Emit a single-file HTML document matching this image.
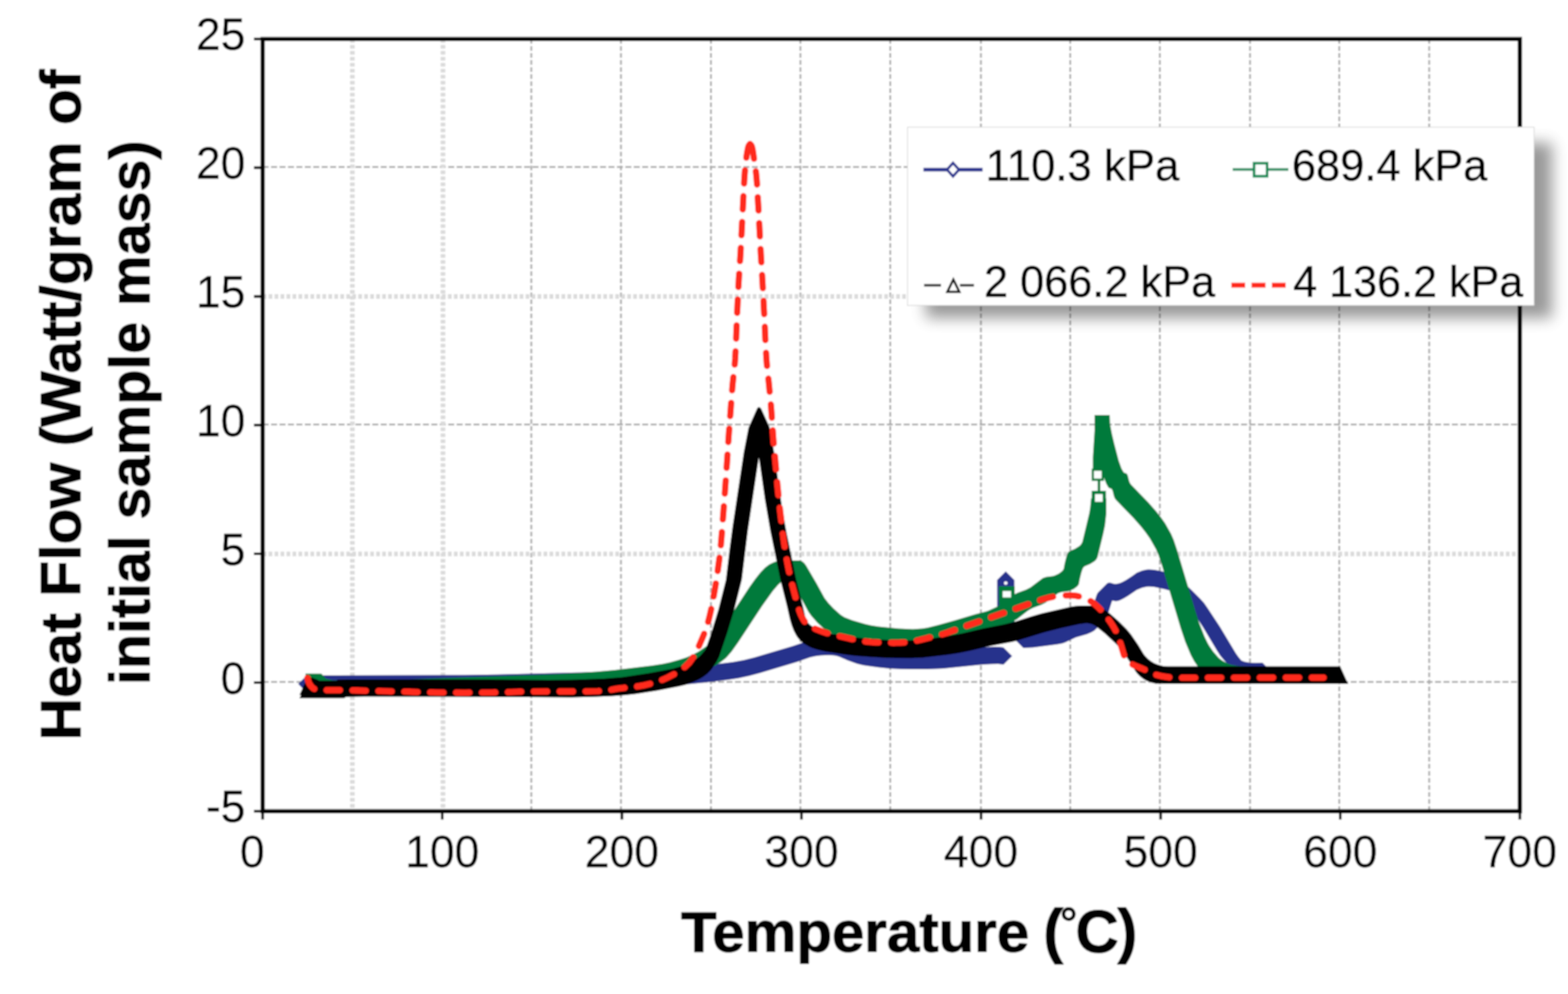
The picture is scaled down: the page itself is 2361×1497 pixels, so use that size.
<!DOCTYPE html>
<html lang="en"><head><meta charset="utf-8"><title>Heat Flow vs Temperature</title>
<style>
html,body{margin:0;padding:0;background:#fff;}
body{width:2361px;height:1497px;overflow:hidden;}
svg{display:block;}
text{font-family:"Liberation Sans",sans-serif;fill:#000;}
.tick{font-size:69px;stroke:#000;stroke-width:0.4px;}
.leg{font-size:66px;stroke:#000;stroke-width:0.7px;}
.ttl{font-size:86px;font-weight:bold;stroke:#000;stroke-width:1.5px;stroke-linejoin:round;}
</style></head><body>
<svg width="2361" height="1497" viewBox="0 0 2361 1497">
<defs><filter id="sh" x="-20%" y="-40%" width="140%" height="180%"><feGaussianBlur stdDeviation="11"/></filter>
<filter id="soft" filterUnits="userSpaceOnUse" x="0" y="0" width="2361" height="1497"><feGaussianBlur stdDeviation="1.1"/></filter></defs>
<rect width="2361" height="1497" fill="#fff"/>
<g filter="url(#soft)">
<rect width="2361" height="1497" fill="#fff"/>
<path d="M395.5 251.4 H2288.5 M395.5 639.3 H2288.5 M395.5 1027.0 H2288.5" fill="none" stroke="#a2a2a2" stroke-width="2.5" stroke-dasharray="9 3.7"/>
<path d="M800.0 58.8 V1221.8 M935.0 58.8 V1221.8 M1070.5 58.8 V1221.8 M1205.2 58.8 V1221.8 M1340.5 58.8 V1221.8 M1477.0 58.8 V1221.8 M1611.5 58.8 V1221.8 M1746.4 58.8 V1221.8 M1882.2 58.8 V1221.8 M2016.6 58.8 V1221.8 M2152.0 58.8 V1221.8" fill="none" stroke="#aaaaaa" stroke-width="2.8" stroke-dasharray="7 3.6"/>
<path d="M530.6 58.8 V1221.8 M667.0 58.8 V1221.8 M395.5 446.6 H2288.5 M395.5 834.3 H2288.5" fill="none" stroke="#dadada" stroke-width="7" stroke-dasharray="5.5 3.5"/>
<g id="curves">
<path d="M1501.6 945.0 1514.6 958.0 1527.6 945.0 1527.4 873.6 1514.4 860.6 1501.4 873.6ZM1604.0 941.5 1596.0 944.0 1560.0 949.0 1541.0 950.0 1528.0 963.0 1541.0 976.0 1555.8 975.3 1592.0 970.6 1600.0 969.0 1604.0 967.5 1620.0 960.0 1636.5 955.3 1643.0 952.6 1647.9 949.7 1663.0 934.7 1665.0 932.0 1666.9 928.4 1668.5 924.0 1674.7 904.4 1680.0 905.5 1684.0 904.9 1687.8 903.5 1692.6 901.1 1698.5 897.5 1711.7 888.5 1719.8 885.3 1726.4 883.8 1730.0 883.5 1737.7 884.0 1754.1 887.5 1762.3 889.7 1766.3 891.2 1770.0 893.0 1773.5 895.3 1786.7 907.6 1791.9 914.9 1811.0 944.0 1832.8 980.5 1837.0 986.9 1840.7 991.6 1851.2 1003.5 1864.2 1016.5 1869.0 1020.5 1873.8 1022.6 1882.0 1024.0 1890.1 1024.3 1901.0 1024.0 1914.0 1011.0 1901.0 998.0 1890.1 998.3 1882.0 998.0 1873.8 996.6 1869.3 994.7 1864.9 989.4 1861.0 984.0 1837.0 944.0 1817.9 914.9 1813.0 908.0 1807.6 902.1 1794.6 889.1 1776.8 872.1 1773.5 869.3 1770.0 867.0 1766.3 865.2 1758.2 862.5 1745.9 859.6 1737.7 858.0 1730.0 857.5 1726.4 857.8 1719.8 859.3 1711.7 862.5 1704.0 868.0 1695.5 873.4 1690.0 876.5 1685.9 878.3 1680.0 879.5 1677.5 879.2 1671.9 877.6 1669.3 877.4 1667.0 878.4 1654.0 891.4 1652.2 893.8 1650.8 897.3 1641.2 927.4 1636.5 929.3 1620.0 934.0ZM700.0 1016.5 462.0 1017.0 449.0 1030.0 462.0 1043.0 663.8 1042.7 727.0 1042.2 891.0 1038.3 977.0 1035.3 1009.7 1033.2 1068.2 1027.3 1095.3 1024.1 1111.8 1021.6 1128.0 1018.1 1144.0 1013.7 1200.0 997.0 1220.0 990.0 1228.0 988.3 1236.0 987.3 1248.0 986.8 1256.0 987.3 1260.0 988.0 1264.0 989.2 1276.0 994.4 1290.6 999.8 1300.0 1002.0 1306.7 1003.1 1323.0 1005.3 1340.0 1007.0 1356.0 1007.8 1372.0 1008.0 1396.0 1007.9 1420.0 1007.0 1476.3 1001.3 1492.6 1000.2 1503.0 1000.1 1511.0 1001.0 1524.0 988.0 1511.0 975.0 1505.6 974.3 1496.6 974.1 1480.0 975.0 1428.3 980.4 1412.0 981.4 1380.0 982.0 1348.0 981.5 1323.0 979.3 1300.0 976.0 1294.7 974.9 1287.0 972.6 1276.0 968.4 1264.0 963.2 1260.0 962.0 1252.0 960.9 1244.0 960.8 1232.0 961.7 1220.0 964.0 1193.3 973.1 1136.0 990.0 1120.0 994.0 1103.5 996.9 1073.7 1000.8 1000.0 1008.0 977.0 1009.3 891.0 1012.3 749.1 1015.8Z" fill="#28308c"/>
<circle cx="1514.4" cy="878.1" r="2.6" fill="#fff"/>
<path d="M1663.0 721.5 1665.7 728.5 1668.5 733.5 1670.0 734.9 1673.1 736.1 1674.5 737.5 1675.5 740.2 1677.2 747.3 1678.5 750.5 1680.3 753.1 1706.0 779.5 1717.9 792.9 1725.0 802.0 1731.4 811.0 1740.4 826.9 1744.4 836.3 1749.5 851.5 1777.9 946.5 1784.6 966.5 1793.1 986.8 1798.1 995.9 1803.6 1003.9 1809.2 1010.7 1814.9 1016.1 1822.2 1020.6 1826.1 1022.5 1831.2 1024.2 1838.5 1025.5 1850.1 1026.5 1888.5 1028.0 1911.5 1028.0 1911.5 1005.0 1873.1 1003.5 1861.5 1002.5 1854.2 1001.2 1849.1 999.5 1841.5 995.5 1837.9 993.1 1834.9 990.6 1826.6 980.9 1821.1 972.9 1818.5 968.5 1813.8 958.8 1805.8 938.5 1800.9 923.5 1772.5 828.5 1767.4 813.3 1763.4 803.9 1754.4 788.0 1748.0 779.0 1740.9 769.9 1729.0 756.5 1703.3 730.1 1701.5 727.5 1700.2 724.3 1698.5 717.2 1697.5 714.5 1696.1 713.1 1693.0 711.9 1691.5 710.5 1688.7 705.5 1684.6 694.1 1677.9 668.5 1674.3 653.3 1671.5 638.5 1671.0 625.0 1648.0 625.0 1648.0 648.5 1645.5 688.5 1645.5 705.8 1643.8 705.8 1643.8 724.2 1652.8 724.2 1652.8 739.2 1643.8 739.2 1643.8 750.5 1642.9 750.5 1641.5 764.5 1640.2 772.5 1629.8 815.8 1628.5 818.5 1626.9 820.7 1624.9 822.4 1618.5 826.5 1610.2 829.9 1608.5 831.5 1607.1 833.9 1605.1 840.2 1602.9 849.2 1601.6 856.4 1600.5 858.5 1598.7 860.4 1594.0 863.9 1588.5 866.5 1585.5 867.4 1575.4 868.7 1570.2 870.6 1551.7 884.6 1544.9 888.1 1532.6 892.5 1528.5 894.5 1528.0 894.8 1528.0 883.0 1504.0 883.0 1504.0 907.0 1504.5 907.0 1504.5 911.8 1500.5 914.1 1488.5 919.5 1484.8 920.8 1468.5 924.9 1436.8 934.5 1412.5 941.3 1396.5 945.2 1388.5 946.5 1374.5 947.6 1353.0 946.6 1322.8 943.4 1311.5 941.7 1302.8 939.8 1283.1 933.9 1271.5 929.5 1266.0 926.1 1255.3 916.6 1247.7 908.5 1241.5 900.5 1229.5 878.5 1214.0 852.1 1211.5 848.5 1208.8 845.9 1205.6 844.3 1203.5 844.0 1177.8 844.0 1174.7 844.3 1167.8 845.8 1164.5 847.0 1158.3 850.1 1152.0 854.7 1144.8 862.2 1136.7 872.6 1128.5 884.0 1096.2 933.2 1078.9 958.0 1072.5 965.5 1069.0 968.9 1061.5 974.7 1051.4 981.4 1045.8 984.4 1033.8 989.9 1021.1 994.1 1008.5 997.5 997.9 999.8 981.8 1002.3 925.9 1008.9 897.8 1011.4 860.8 1014.0 827.4 1015.7 588.5 1024.0 501.0 1024.4 490.5 1022.0 484.5 1014.9 483.0 1014.5 460.0 1014.5 460.0 1037.5 461.5 1037.9 467.5 1045.0 478.5 1047.5 501.5 1047.5 501.5 1047.5 577.1 1047.4 611.5 1047.0 860.5 1038.3 908.9 1035.3 956.5 1031.1 1011.5 1024.3 1024.5 1022.1 1035.6 1019.5 1054.4 1013.8 1071.5 1006.1 1084.5 997.7 1092.0 991.9 1095.5 988.5 1101.9 981.0 1111.5 967.5 1147.5 912.8 1163.8 890.1 1171.5 881.0 1175.0 877.7 1181.3 873.1 1187.2 870.1 1191.0 875.1 1206.5 901.5 1217.2 921.4 1221.5 927.6 1230.3 937.5 1240.8 947.3 1245.6 950.8 1252.0 954.1 1276.0 961.8 1288.5 964.7 1306.0 967.2 1335.8 970.0 1363.8 970.7 1395.0 970.7 1411.5 969.5 1427.5 966.4 1459.8 957.5 1491.5 947.9 1507.8 943.8 1515.5 940.9 1523.5 937.1 1524.5 936.5 1527.5 936.5 1527.5 934.8 1531.5 932.5 1547.5 920.1 1551.5 917.5 1555.6 915.5 1567.9 911.1 1574.7 907.6 1593.2 893.6 1598.4 891.7 1608.5 890.4 1611.5 889.5 1617.0 886.9 1621.7 883.4 1623.5 881.5 1624.6 879.4 1625.9 872.2 1628.1 863.2 1630.1 856.9 1631.5 854.5 1633.2 852.9 1641.5 849.5 1647.9 845.4 1649.9 843.7 1651.5 841.5 1652.8 838.8 1661.3 803.8 1663.9 791.5 1665.9 773.5 1665.9 750.5 1665.3 750.5 1665.3 739.2 1656.8 739.2 1656.8 724.2 1662.2 724.2 1662.2 718.9Z" fill="#007a3b"/>
<rect x="1509.8" y="890.2" width="12.5" height="9.5" fill="#fff"/>
<rect x="1648.8" y="744.2" width="11.5" height="11.5" fill="#fff"/>
<rect x="1647.2" y="709.2" width="11.5" height="11.5" fill="#fff"/>
<path d="M1151.7 752.2 1160.0 800.2 1175.0 873.2 1185.0 913.2 1189.5 933.2 1192.1 942.1 1195.1 949.7 1198.6 956.6 1201.4 960.7 1206.2 966.1 1209.9 969.1 1213.9 971.6 1221.5 975.4 1231.0 978.6 1242.6 981.2 1269.6 985.6 1288.0 987.7 1311.5 989.6 1337.0 990.9 1372.0 991.2 1389.4 990.6 1428.0 986.1 1444.0 983.5 1460.0 980.3 1492.0 972.8 1524.0 966.7 1532.0 964.8 1572.0 952.4 1597.4 946.0 1625.0 939.9 1636.4 938.5 1643.3 939.7 1648.0 942.0 1651.4 944.3 1663.8 954.3 1680.4 969.8 1688.0 978.0 1691.2 982.1 1702.0 998.0 1709.9 1011.2 1712.0 1014.0 1716.6 1018.7 1721.4 1022.4 1726.6 1025.4 1731.9 1027.5 1740.3 1029.7 1777.2 1030.1 2030.0 1030.0 2018.0 1003.6 1758.9 1003.5 1752.3 1003.3 1743.9 1001.1 1738.6 999.0 1733.4 996.0 1728.6 992.3 1724.0 987.6 1721.9 984.8 1714.0 971.6 1703.2 955.7 1696.4 947.5 1684.1 935.3 1671.5 924.3 1660.0 915.6 1655.3 913.3 1646.5 911.9 1628.5 911.9 1620.0 912.5 1613.0 913.5 1568.3 923.8 1552.0 928.4 1528.0 936.2 1512.0 940.3 1480.0 946.4 1448.0 953.9 1432.0 957.1 1408.0 960.8 1377.4 964.2 1360.0 964.8 1349.0 964.5 1323.5 963.2 1290.4 960.3 1273.6 958.0 1254.6 954.8 1243.0 952.2 1233.5 949.0 1225.9 945.2 1220.0 941.3 1215.0 936.2 1214.0 935.0 1213.5 933.2 1209.0 913.2 1199.0 873.2 1184.0 800.2 1177.0 760.2 1165.5 680.2 1159.5 646.6 1158.5 642.6 1146.1 615.3 1144.1 613.4 1143.0 613.0 1141.4 613.6 1139.9 615.3 1127.0 644.2 1120.0 680.2 1103.1 792.3 1098.7 825.4 1093.0 873.2 1081.9 917.2 1071.0 953.2 1062.7 977.2 1061.7 978.7 1056.0 985.6 1053.1 988.4 1050.0 990.9 1043.5 995.2 1032.3 1000.7 1024.1 1003.7 1013.0 1007.0 977.0 1013.8 937.4 1019.8 909.3 1022.1 860.0 1023.8 826.9 1024.0 679.7 1023.0 527.9 1023.0 509.6 1023.4 507.8 1023.8 507.4 1024.8 505.0 1025.0 480.2 1025.0 480.0 1024.6 470.0 1020.4 463.0 1020.2 451.0 1046.6 453.2 1046.7 451.0 1051.4 517.0 1051.4 520.0 1051.1 519.9 1050.2 521.6 1049.8 548.8 1049.3 688.0 1049.5 860.6 1050.4 897.0 1049.5 921.3 1048.5 941.3 1047.0 957.0 1045.2 989.0 1040.2 1021.4 1034.1 1032.0 1031.4 1044.3 1027.1 1052.0 1023.6 1058.8 1019.6 1065.1 1014.8 1070.9 1008.7 1078.8 997.2 1082.8 989.3 1095.0 953.2 1105.9 917.2 1117.0 873.2 1126.0 800.2 1142.7 689.0Z" fill="#000"/>
<path d="M463.0 1021.0 L463.4 1022.6 L464.0 1025.0 L464.8 1027.6 L466.0 1030.0 L467.5 1032.2 L469.3 1034.5 L471.5 1036.5 L474.0 1038.0 L476.7 1038.8 L479.5 1039.1 L483.1 1039.2 L488.0 1039.3 L493.6 1039.4 L499.9 1039.4 L508.2 1039.3 L520.0 1039.5 L537.1 1039.9 L558.2 1040.4 L580.3 1041.0 L600.0 1041.5 L615.9 1041.9 L630.0 1042.4 L644.1 1042.7 L660.0 1043.0 L679.1 1043.1 L700.0 1043.2 L720.9 1043.1 L740.0 1043.0 L755.5 1042.7 L768.8 1042.3 L782.7 1041.8 L800.0 1041.5 L823.8 1041.4 L851.9 1041.4 L879.0 1041.3 L900.0 1041.0 L912.2 1040.3 L918.8 1039.3 L923.4 1038.2 L930.0 1037.0 L939.4 1036.0 L949.6 1035.0 L960.0 1033.8 L970.0 1032.0 L979.4 1029.7 L988.5 1027.1 L997.4 1023.9 L1006.0 1020.0 L1014.6 1015.6 L1023.0 1010.6 L1030.9 1004.9 L1038.0 998.0 L1044.1 989.4 L1049.4 979.5 L1054.0 969.3 L1058.0 960.0 L1061.2 952.2 L1063.8 945.1 L1065.9 938.0 L1068.0 930.0 L1070.2 920.7 L1072.2 910.6 L1074.2 900.2 L1076.0 890.0 L1077.7 879.8 L1079.3 869.4 L1080.7 859.3 L1082.0 850.0 L1083.1 842.0 L1083.9 835.0 L1084.7 828.0 L1085.5 820.0 L1086.3 810.7 L1087.1 800.6 L1087.8 790.2 L1088.6 780.0 L1089.4 770.0 L1090.1 760.0 L1090.9 750.0 L1091.6 740.0 L1092.3 730.0 L1093.0 720.0 L1093.7 710.0 L1094.4 700.0 L1095.1 690.0 L1095.7 680.0 L1096.3 670.0 L1097.0 660.0 L1097.7 650.0 L1098.5 640.0 L1099.2 630.0 L1100.0 620.0 L1100.7 610.0 L1101.4 600.0 L1102.2 590.0 L1103.0 580.0 L1104.0 570.5 L1105.0 561.3 L1106.1 551.5 L1107.0 540.0 L1107.7 526.1 L1108.4 510.6 L1109.0 494.5 L1109.6 479.0 L1110.3 464.1 L1111.0 449.2 L1111.7 435.0 L1112.4 422.0 L1113.1 410.8 L1113.8 400.8 L1114.4 391.5 L1115.0 382.0 L1115.5 372.4 L1116.0 363.0 L1116.5 353.6 L1117.0 344.0 L1117.5 334.1 L1118.0 324.0 L1118.5 313.9 L1119.0 304.0 L1119.5 294.1 L1120.0 284.1 L1120.5 274.6 L1121.0 266.0 L1121.6 258.5 L1122.2 251.8 L1122.8 245.7 L1123.5 240.0 L1124.2 234.6 L1125.0 229.7 L1125.8 225.4 L1126.5 222.0 L1127.3 219.7 L1128.1 218.3 L1128.8 217.4 L1129.3 216.8" fill="none" stroke="#ff2a1c" stroke-width="9.6" stroke-linejoin="round" stroke-linecap="round" stroke-dasharray="20 19" stroke-dashoffset="0"/>
<path d="M1129.3 216.8 L1129.9 217.4 L1130.7 218.3 L1131.6 219.7 L1132.5 222.0 L1133.3 225.4 L1134.0 229.7 L1134.7 234.6 L1135.5 240.0 L1136.4 245.7 L1137.3 251.8 L1138.2 258.5 L1139.0 266.0 L1139.7 274.6 L1140.3 284.1 L1140.8 294.1 L1141.4 304.0 L1142.0 313.9 L1142.5 324.0 L1143.1 334.1 L1143.6 344.0 L1144.1 353.6 L1144.6 363.0 L1145.1 372.4 L1145.6 382.0 L1146.2 391.5 L1146.7 400.8 L1147.3 410.8 L1148.0 422.0 L1148.7 435.0 L1149.5 449.2 L1150.2 464.1 L1151.0 479.0 L1151.7 494.5 L1152.4 510.6 L1153.2 526.1 L1154.0 540.0 L1154.9 551.5 L1156.0 561.3 L1157.0 570.5 L1158.0 580.0 L1158.9 590.0 L1159.9 600.0 L1160.8 610.0 L1161.6 620.0 L1162.3 630.0 L1163.0 640.0 L1163.7 650.0 L1164.4 660.0 L1165.2 670.0 L1166.2 680.0 L1167.1 690.0 L1168.0 700.0 L1168.9 710.0 L1169.7 720.0 L1170.6 730.0 L1171.6 740.0 L1172.6 750.0 L1173.7 760.0 L1174.8 770.0 L1176.0 780.0 L1177.2 790.0 L1178.3 800.0 L1179.6 810.0 L1181.0 820.0 L1182.5 830.0 L1184.2 840.0 L1186.0 850.0 L1188.0 860.0 L1190.3 870.3 L1192.9 880.9 L1195.6 891.0 L1198.0 900.0 L1200.1 907.7 L1202.0 914.6 L1203.9 920.6 L1206.0 926.0 L1208.3 930.7 L1210.6 934.7 L1213.2 938.1 L1216.0 941.0 L1219.1 943.3 L1222.4 945.0 L1226.0 946.4 L1230.0 948.0 L1234.6 949.8 L1239.6 951.7 L1244.9 953.4 L1250.0 955.0 L1255.0 956.3 L1260.0 957.4 L1265.0 958.4 L1270.0 959.5 L1275.0 960.7 L1279.9 961.8 L1284.9 963.0 L1290.0 964.0 L1295.2 964.9 L1300.5 965.7 L1306.0 966.4 L1312.0 967.0 L1318.8 967.4 L1326.1 967.7 L1333.4 967.9 L1340.0 968.0 L1345.6 968.1 L1350.5 968.0 L1355.2 967.9 L1360.0 967.6 L1365.0 967.2 L1370.0 966.6 L1375.0 965.9 L1380.0 965.0 L1385.0 963.9 L1390.0 962.6 L1395.0 961.3 L1400.0 960.0 L1405.0 958.8 L1410.0 957.6 L1415.0 956.4 L1420.0 955.0 L1425.0 953.4 L1430.0 951.6 L1435.0 949.8 L1440.0 948.0 L1445.0 946.2 L1450.0 944.5 L1455.0 942.8 L1460.0 941.0 L1465.0 939.2 L1470.0 937.5 L1475.0 935.8 L1480.0 934.0 L1485.0 932.2 L1490.0 930.5 L1495.0 928.8 L1500.0 927.0 L1505.0 925.2 L1510.0 923.5 L1515.0 921.8 L1520.0 920.0 L1525.0 918.2 L1530.0 916.5 L1535.0 914.8 L1540.0 913.0 L1545.0 911.2 L1550.0 909.4 L1555.0 907.7 L1560.0 906.0 L1565.0 904.4 L1570.0 902.8 L1575.0 901.3 L1580.0 900.0 L1585.0 899.0 L1590.0 898.1 L1595.0 897.4 L1600.0 897.0 L1605.0 896.7 L1610.0 896.5 L1615.0 896.7 L1620.0 897.3 L1625.1 898.4 L1630.2 899.9 L1635.3 901.7 L1640.0 904.0 L1644.3 906.7 L1648.4 909.9 L1652.2 913.3 L1656.0 917.0 L1659.7 920.9 L1663.2 925.1 L1666.7 929.4 L1670.0 934.0 L1673.3 938.8 L1676.5 943.9 L1679.5 949.1 L1682.0 954.0 L1683.9 958.6 L1685.4 963.1 L1686.6 967.5 L1688.0 972.0 L1689.4 976.7 L1690.8 981.5 L1692.2 986.1 L1694.0 990.0 L1696.1 993.1 L1698.4 995.7 L1701.0 997.9 L1704.0 1000.0 L1707.5 1001.9 L1711.4 1003.6 L1715.6 1005.2 L1720.0 1007.0 L1724.7 1009.2 L1729.8 1011.7 L1734.9 1014.1 L1740.0 1016.0 L1745.0 1017.4 L1750.0 1018.5 L1755.0 1019.3 L1760.0 1020.0 L1762.7 1020.4 L1763.8 1020.7 L1768.0 1020.7 L1780.0 1020.8 L1803.6 1020.8 L1835.4 1020.7 L1869.6 1020.7 L1900.0 1020.6 L1927.3 1020.6 L1954.0 1020.6 L1976.9 1020.6 L1993.0 1020.6" fill="none" stroke="#ff2a1c" stroke-width="9.6" stroke-linejoin="round" stroke-linecap="round" stroke-dasharray="20 19.1" stroke-dashoffset="-3.5"/>
<path d="M1129.3 216.8 L1129.9 217.4 L1130.7 218.3 L1131.6 219.7" fill="none" stroke="#ff2a1c" stroke-width="9.6" stroke-linejoin="round" stroke-linecap="round"/>
</g>
<rect x="395.5" y="58.8" width="1893.0" height="1163.0" fill="none" stroke="#000" stroke-width="6.4"/>
<path d="M382.5 1221.8 H395.5 M382.5 1028.0 H395.5 M382.5 834.1 H395.5 M382.5 640.3 H395.5 M382.5 446.5 H395.5 M382.5 252.6 H395.5 M382.5 58.8 H395.5 M395.5 1221.8 V1234.3 M665.9 1221.8 V1234.3 M936.4 1221.8 V1234.3 M1206.8 1221.8 V1234.3 M1477.2 1221.8 V1234.3 M1747.6 1221.8 V1234.3 M2018.1 1221.8 V1234.3 M2288.5 1221.8 V1234.3" fill="none" stroke="#000" stroke-width="4"/>
<text class="tick" x="369.5" y="1238.4" text-anchor="end" textLength="59.6" lengthAdjust="spacingAndGlyphs">-5</text>
<text class="tick" x="369.5" y="1044.6" text-anchor="end" textLength="37.3" lengthAdjust="spacingAndGlyphs">0</text>
<text class="tick" x="369.5" y="850.7" text-anchor="end" textLength="37.3" lengthAdjust="spacingAndGlyphs">5</text>
<text class="tick" x="369.5" y="656.9" text-anchor="end" textLength="74.5" lengthAdjust="spacingAndGlyphs">10</text>
<text class="tick" x="369.5" y="463.1" text-anchor="end" textLength="74.5" lengthAdjust="spacingAndGlyphs">15</text>
<text class="tick" x="369.5" y="269.2" text-anchor="end" textLength="74.5" lengthAdjust="spacingAndGlyphs">20</text>
<text class="tick" x="369.5" y="75.4" text-anchor="end" textLength="74.5" lengthAdjust="spacingAndGlyphs">25</text>
<text class="tick" x="380.0" y="1306.3" text-anchor="middle" textLength="37.3" lengthAdjust="spacingAndGlyphs">0</text>
<text class="tick" x="665.9" y="1306.3" text-anchor="middle" textLength="111.8" lengthAdjust="spacingAndGlyphs">100</text>
<text class="tick" x="936.4" y="1306.3" text-anchor="middle" textLength="111.8" lengthAdjust="spacingAndGlyphs">200</text>
<text class="tick" x="1206.8" y="1306.3" text-anchor="middle" textLength="111.8" lengthAdjust="spacingAndGlyphs">300</text>
<text class="tick" x="1477.2" y="1306.3" text-anchor="middle" textLength="111.8" lengthAdjust="spacingAndGlyphs">400</text>
<text class="tick" x="1747.6" y="1306.3" text-anchor="middle" textLength="111.8" lengthAdjust="spacingAndGlyphs">500</text>
<text class="tick" x="2018.1" y="1306.3" text-anchor="middle" textLength="111.8" lengthAdjust="spacingAndGlyphs">600</text>
<text class="tick" x="2288.5" y="1306.3" text-anchor="middle" textLength="111.8" lengthAdjust="spacingAndGlyphs">700</text>
<text class="ttl" y="1433.3"><tspan x="1025.6" textLength="524" lengthAdjust="spacingAndGlyphs">Temperature</tspan><tspan x="1571" font-size="90">(</tspan><tspan x="1596.1" dy="-20.5" font-size="66" stroke-width="0.3">°</tspan><tspan x="1619.5" dy="21.3" font-size="90" textLength="65" lengthAdjust="spacingAndGlyphs">C</tspan><tspan x="1682.5" dy="-0.8" font-size="90">)</tspan></text>
<text class="ttl" transform="translate(120.6 610) rotate(-90)" text-anchor="middle" textLength="1010.5" lengthAdjust="spacingAndGlyphs">Heat Flow (Watt/gram of</text>
<text class="ttl" transform="translate(225.3 621.5) rotate(-90)" text-anchor="middle" textLength="820" lengthAdjust="spacingAndGlyphs">initial sample mass)</text>
<rect x="1394" y="215" width="943" height="264" fill="#000" opacity="0.4" filter="url(#sh)"/>
<rect x="1366.5" y="191.5" width="943.5" height="268.5" fill="#fff" stroke="#d0d0d0" stroke-width="1"/>
<path d="M1390.5 255.5 H1479.5" stroke="#2b3590" stroke-width="5.5" fill="none"/>
<path d="M1435 245.5 L1444 255.5 L1435 265.5 L1426 255.5 Z" stroke="#2b3590" stroke-width="4" fill="#fff"/>
<path d="M1856 255.3 H1940" stroke="#2e9063" stroke-width="4" fill="none"/>
<rect x="1888.3" y="245.8" width="19.6" height="19.6" stroke="#0b8a55" stroke-width="4" fill="#fff"/>
<path d="M1391.5 429.7 H1417 M1445.5 429.7 H1466.5" stroke="#2a2a2a" stroke-width="3.8" fill="none"/>
<path d="M1435.5 421 L1444.5 439.5 L1426.5 439.5 Z" stroke="#111" stroke-width="3.6" fill="#fff"/>
<path d="M1854 429.6 H1936" stroke="#ff2a1c" stroke-width="7.5" stroke-dasharray="21 9.5" fill="none"/>
<text class="leg" x="1484" y="272" textLength="291.8" lengthAdjust="spacingAndGlyphs">110.3 kPa</text>
<text class="leg" x="1945.2" y="272" textLength="294.5" lengthAdjust="spacingAndGlyphs">689.4 kPa</text>
<text class="leg" x="1481.7" y="447" textLength="348" lengthAdjust="spacingAndGlyphs">2 066.2 kPa</text>
<text class="leg" x="1947.2" y="447" textLength="346.5" lengthAdjust="spacingAndGlyphs">4 136.2 kPa</text>
</g>
</svg></body></html>
